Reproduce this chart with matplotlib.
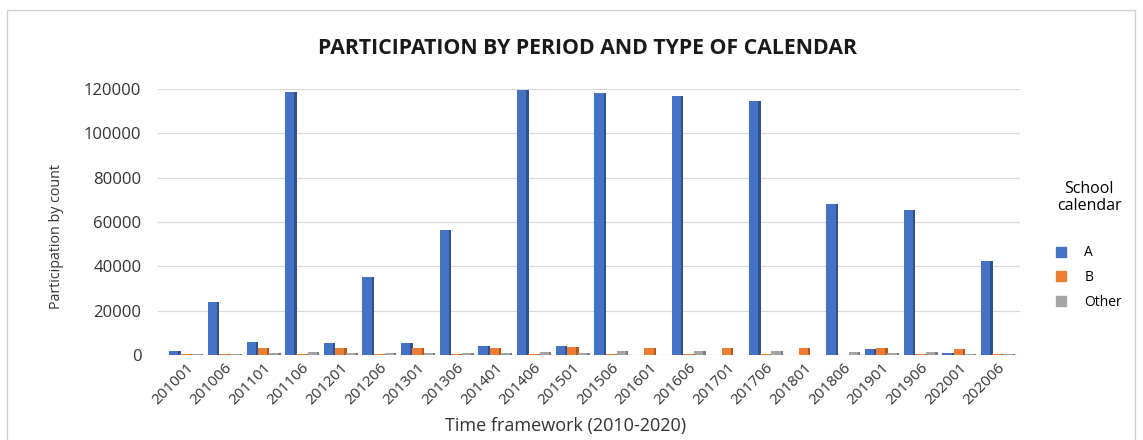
import numpy as np
import matplotlib
matplotlib.use("Agg")
import matplotlib.pyplot as plt
from matplotlib.patches import Patch, Rectangle

periods = ["201001", "201006", "201101", "201106", "201201", "201206", "201301", "201306",
           "201401", "201406", "201501", "201506", "201601", "201606", "201701", "201706",
           "201801", "201806", "201901", "201906", "202001", "202006"]
cal_a = [2000, 24000, 6000, 118500, 5500, 35000, 5200, 56500, 4200, 119500, 4200, 118000,
         0, 117000, 0, 114500, 0, 68000, 2500, 65500, 1000, 42500]
cal_b = [500, 500, 3000, 500, 3300, 300, 3300, 300, 3300, 500, 3400, 300,
         3300, 300, 3300, 300, 3300, 200, 3300, 300, 2500, 300]
cal_other = [300, 300, 800, 1200, 800, 700, 700, 700, 900, 1500, 800, 1700,
             0, 1700, 0, 1900, 0, 1300, 1000, 1200, 400, 400]

series = [("A", cal_a, "#4472C4", "#2F528F"),
          ("B", cal_b, "#ED7D31", "#AE5A21"),
          ("Other", cal_other, "#A5A5A5", "#7B7B7B")]

plt.rcParams["font.family"] = ["Open Sans", "DejaVu Sans"]

fig = plt.figure(figsize=(11.43, 4.4), dpi=100)
ax = fig.add_axes([158 / 1143, 1 - 355 / 440, 862 / 1143, 266 / 440])

x = np.arange(len(periods))
front = 0.24
side = 0.06
step = 0.29
for i, (name, vals, c, dark) in enumerate(series):
    off = (i - 1) * step
    # side face first, then the front face
    ax.bar(x + off + front / 2, vals, width=side, align="edge", color=dark, zorder=3 + i)
    ax.bar(x + off, vals, width=front, color=c, zorder=3 + i, label=name)

ax.set_xlim(-0.7, 21.6)
ax.set_ylim(0, 120000)
ax.set_yticks(np.arange(0, 120001, 20000))
ax.yaxis.grid(True, color="#D9D9D9", lw=0.9, zorder=0)
ax.set_axisbelow(True)
for s in ax.spines.values():
    s.set_visible(False)
ax.tick_params(length=0)
ax.tick_params(axis="y", labelsize=12, pad=12, labelcolor="#333333")
ax.tick_params(axis="x", pad=4)
ax.set_xticks(x + 0.02)
ax.set_xticklabels(periods, rotation=45, ha="right", va="top", rotation_mode="anchor",
                   fontsize=11, color="#333333")

fig.text(588 / 1143, 1 - 48 / 440, "PARTICIPATION BY PERIOD AND TYPE OF CALENDAR",
         ha="center", va="center", fontsize=15.3, fontweight="bold", color="#1a1a1a")
fig.text(566 / 1143, 1 - 426 / 440, "Time framework (2010-2020)", ha="center", va="center",
         fontsize=13, color="#333333")
fig.text(57 / 1143, 1 - 237 / 440, "Participation by count", rotation=90, ha="center",
         va="center", fontsize=10.3, color="#333333")

handles = [Patch(color=c) for _, _, c, _ in series]
leg = fig.legend(handles, [s[0] for s in series], title="School\ncalendar",
                 loc="upper left", bbox_to_anchor=(1049 / 1143, 1 - 174 / 440),
                 frameon=False, handlelength=0.75, handleheight=0.75, labelspacing=0.7,
                 fontsize=10, title_fontsize=11.5, borderpad=0, handletextpad=1.3)
leg.get_title().set_multialignment("center")
leg.get_title().set_linespacing(1.05)
leg._legend_box.sep = 23

fig.add_artist(Rectangle((7 / 1143, -0.02), 1128 / 1143, 1.02 - 10 / 440,
                         transform=fig.transFigure, fill=False, ec="#D0D0D0", lw=1))

fig.savefig("out.png", dpi=100)
